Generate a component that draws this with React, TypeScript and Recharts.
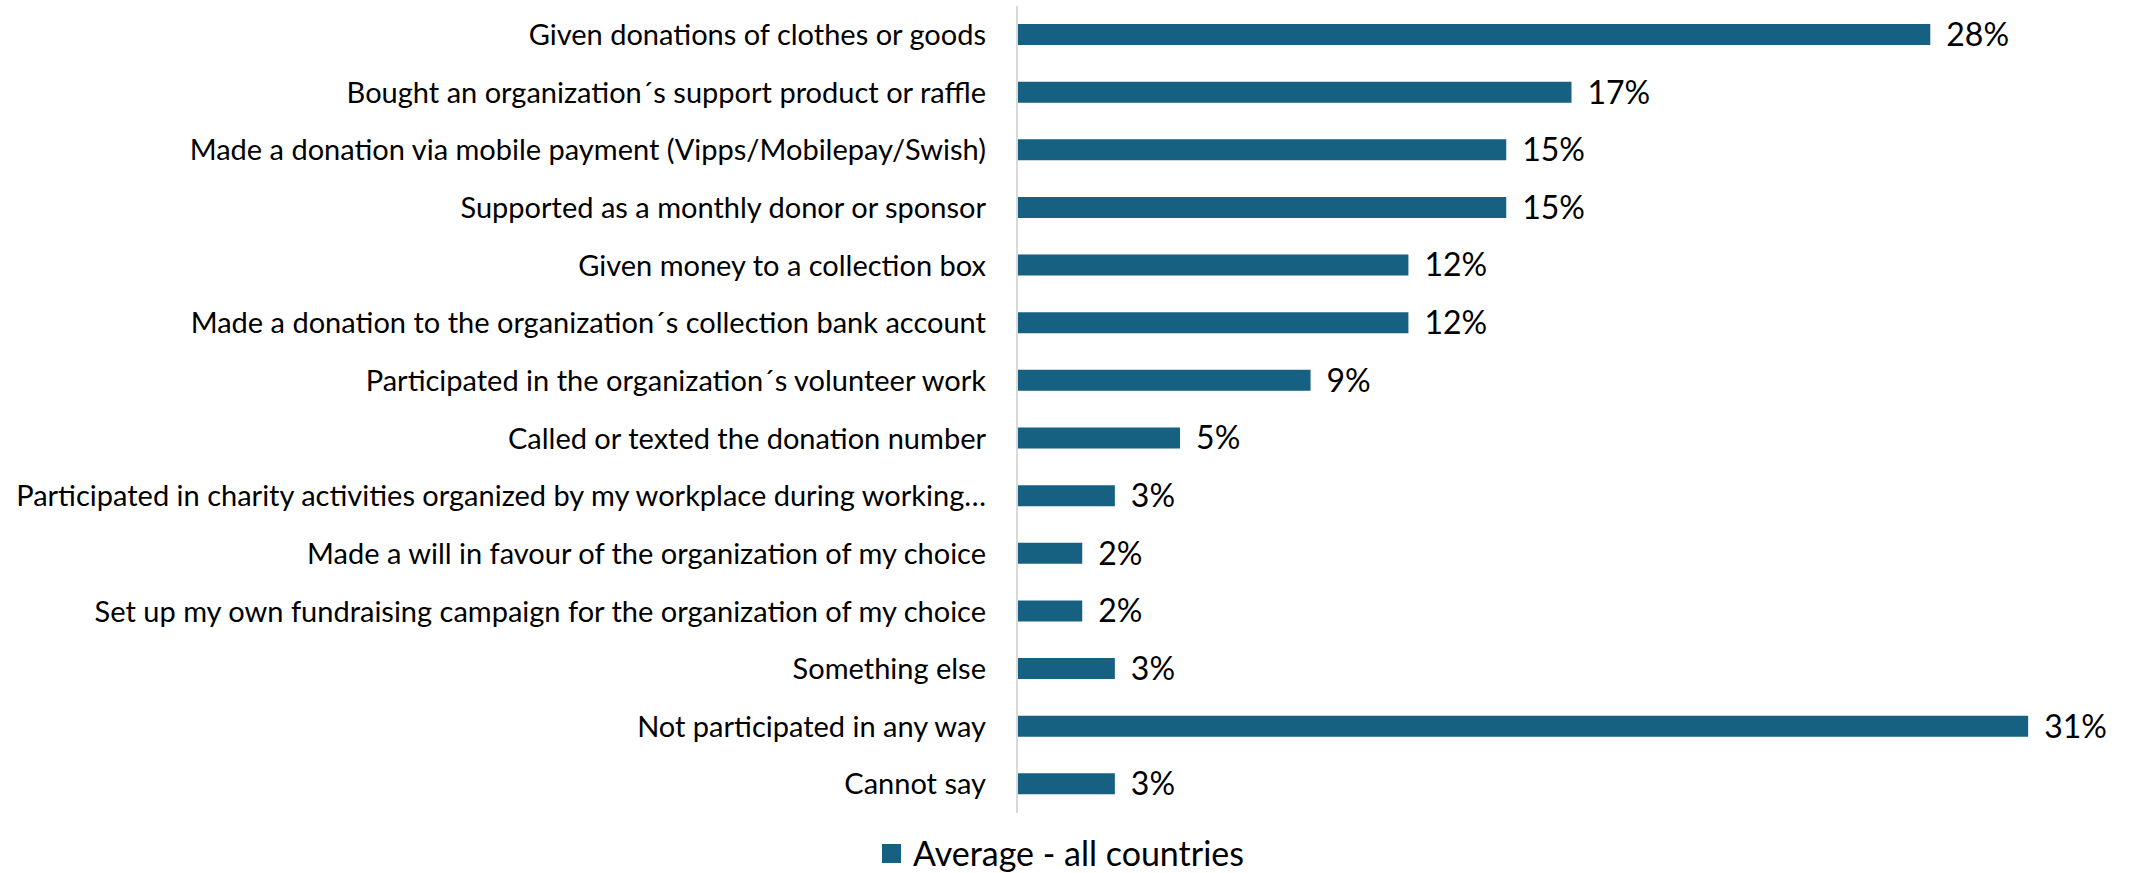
import { BarChart, Bar, XAxis, YAxis, Legend, LabelList } from "recharts";

const categories = [
  "Given donations of clothes or goods",
  "Bought an organization´s support product or raffle",
  "Made a donation via mobile payment (Vipps/Mobilepay/Swish)",
  "Supported as a monthly donor or sponsor",
  "Given money to a collection box",
  "Made a donation to the organization´s collection bank account",
  "Participated in the organization´s volunteer work",
  "Called or texted the donation number",
  "Participated in charity activities organized by my workplace during working…",
  "Made a will in favour of the organization of my choice",
  "Set up my own fundraising campaign for the organization of my choice",
  "Something else",
  "Not participated in any way",
  "Cannot say",
];

const averageAll = [28, 17, 15, 15, 12, 12, 9, 5, 3, 2, 2, 3, 31, 3];

const seriesName = "Average - all countries";

const data = categories.map((c, i) => ({ category: c, average: averageAll[i] }));

const FONT = "Lato, 'Open Sans', sans-serif";
const BAR_COLOR = "#166082";

function LegendContent() {
  return (
    <div
      style={{
        display: "flex",
        justifyContent: "center",
        alignItems: "center",
        fontFamily: FONT,
        fontSize: 34,
        lineHeight: "40px",
        color: "#000",
      }}
    >
      <span style={{ width: 19, height: 19, background: BAR_COLOR, marginRight: 12, display: "inline-block" }} />
      <span>{seriesName}</span>
    </div>
  );
}

export default function App() {
  return (
    <div style={{ position: "absolute", left: 0, top: 0, width: 2131, height: 873, background: "#fff" }}>
      <BarChart
        width={2131}
        height={873}
        data={data}
        layout="vertical"
        margin={{ top: 6, right: 5, bottom: 20, left: 0 }}
        barCategoryGap={0}
      >
        <XAxis type="number" domain={[0, 34]} hide />
        <YAxis
          type="category"
          dataKey="category"
          width={1017}
          tickLine={false}
          tickSize={0}
          tickMargin={31}
          axisLine={{ stroke: "#d9d9d9", strokeWidth: 2 }}
          interval={0}
          tick={{ fill: "#000", fontSize: 29, fontFamily: FONT }}
        />
        <Legend
          verticalAlign="bottom"
          wrapperStyle={{ bottom: 0 }}
          content={() => <LegendContent />}
        />
        <Bar dataKey="average" name={seriesName} fill={BAR_COLOR} barSize={21} isAnimationActive={false}>
          <LabelList
            dataKey="average"
            position="right"
            offset={16}
            formatter={(v: number) => `${v}%`}
            style={{ fill: "#000", fontSize: 32, fontFamily: FONT }}
          />
        </Bar>
      </BarChart>
    </div>
  );
}
